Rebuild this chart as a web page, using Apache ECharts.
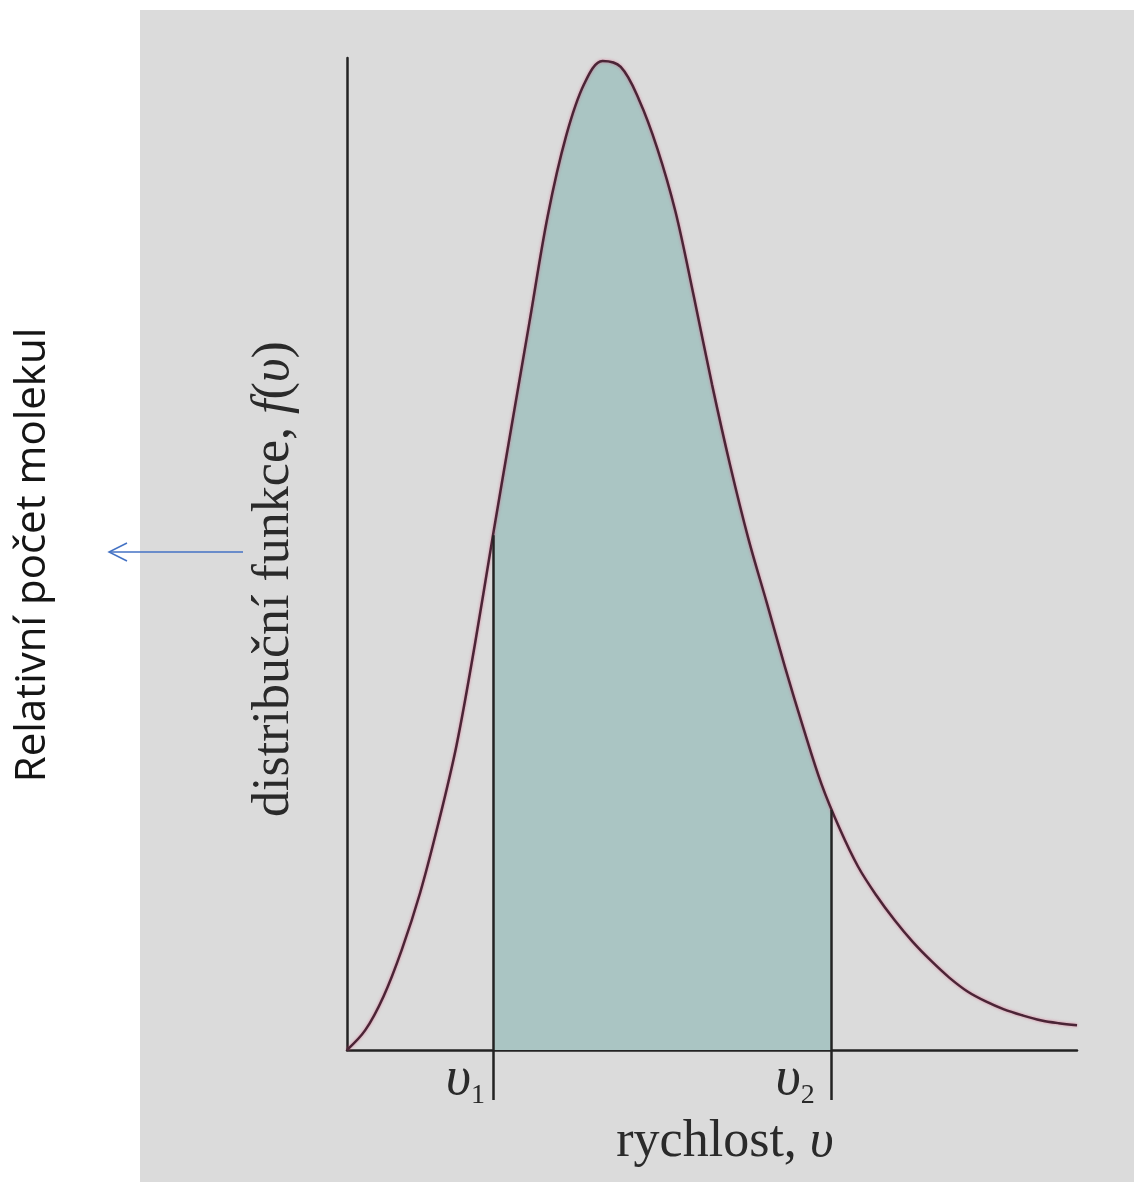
<!DOCTYPE html>
<html>
<head>
<meta charset="utf-8">
<script src="https://cdn.jsdelivr.net/npm/echarts@6/dist/echarts.min.js"></script>
<style>
html,body{margin:0;padding:0;background:#ffffff;}
#chart{width:1134px;height:1182px;}
</style>
</head>
<body>
<div id="chart"></div>
<script>
// Maxwell-like speed distribution (x: speed, arbitrary units 0..10; y: f(v), 0..1)
const speedValues = [0, 0.25, 0.5, 0.75, 1.0, 1.25, 1.5, 1.75, 2.0, 2.25, 2.5, 2.75, 3.0, 3.25, 3.5, 3.75, 4.0, 4.25, 4.5, 4.75, 5.0, 5.25, 5.5, 5.75, 6.0, 6.25, 6.5, 6.75, 7.0, 7.25, 7.5, 7.75, 8.0, 8.25, 8.5, 8.75, 9.0, 9.25, 9.5, 9.75, 10.0];
const densityValues = [0, 0.020, 0.054, 0.101, 0.158, 0.228, 0.307, 0.408, 0.519, 0.627, 0.734, 0.841, 0.921, 0.974, 0.997, 0.991, 0.958, 0.909, 0.845, 0.760, 0.671, 0.589, 0.515, 0.451, 0.386, 0.325, 0.268, 0.223, 0.185, 0.156, 0.131, 0.109, 0.090, 0.073, 0.059, 0.049, 0.041, 0.035, 0.030, 0.027, 0.025];

// integration bounds v1, v2 and curve height read at them
const boundSpeeds = [2.0, 6.64];
const boundHeights = [0.519, 0.242];
const boundLabels = ['1', '2'];

const curveData = speedValues.map((s, i) => [s, densityValues[i]]);
const shadedData = [[boundSpeeds[0], boundHeights[0]]]
  .concat(curveData.filter(p => p[0] > boundSpeeds[0] && p[0] < boundSpeeds[1]))
  .concat([[boundSpeeds[1], boundHeights[1]]]);

const axisColor = '#232323';
const textColor = '#2a2a2a';
const serif = '"Liberation Serif", "Times New Roman", serif';

const chart = echarts.init(document.getElementById('chart'));
chart.setOption({
  backgroundColor: '#ffffff',
  animation: false,
  grid: { left: 347, top: 58, right: 57, bottom: 132, containLabel: false },
  graphic: [
    { type: 'rect', z: -10, silent: true, shape: { x: 140, y: 10, width: 994, height: 1172 }, style: { fill: '#dbdbdb' } },
    { type: 'text', x: 33, y: 555, rotation: Math.PI / 2, silent: true,
      style: { text: 'Relativní počet molekul', fontSize: 42, fontFamily: '"Open Sans", "Noto Sans", sans-serif', fill: '#151515', align: 'center', verticalAlign: 'middle' } },
    { type: 'line', silent: true, shape: { x1: 243, y1: 552, x2: 110, y2: 552 }, style: { stroke: '#4472c4', lineWidth: 1.5 } },
    { type: 'polyline', silent: true, shape: { points: [[127, 543], [109, 552], [127, 561]] }, style: { stroke: '#4472c4', lineWidth: 1.5, fill: null } }
  ],
  xAxis: {
    type: 'value', min: 0, max: 10,
    name: 'rychlost, {i|υ}',
    nameLocation: 'middle', nameGap: 66,
    nameTextStyle: { fontFamily: serif, fontSize: 52, color: textColor, padding: [0, 0, 0, 26],
      rich: { i: { fontFamily: serif, fontSize: 52, fontStyle: 'italic', color: textColor } } },
    axisLine: { show: true, lineStyle: { color: axisColor, width: 2.5 } },
    axisTick: { show: true, customValues: boundSpeeds, length: 50, inside: false, lineStyle: { color: axisColor, width: 2.5 } },
    axisLabel: {
      show: true, customValues: boundSpeeds, margin: 0, align: 'right',
      formatter: function (val) {
        const k = Math.abs(val - boundSpeeds[0]) < 1e-6 ? 0 : 1;
        return '{v|υ}{s' + k + '|' + boundLabels[k] + '}';
      },
      rich: {
        v: { fontFamily: serif, fontStyle: 'italic', fontSize: 55, lineHeight: 60, verticalAlign: 'middle', color: textColor },
        s0: { fontFamily: serif, fontSize: 28, lineHeight: 28, verticalAlign: 'bottom', color: textColor, padding: [0, 8, 0, 0] },
        s1: { fontFamily: serif, fontSize: 28, lineHeight: 28, verticalAlign: 'bottom', color: textColor, padding: [0, 17, 0, 0] }
      }
    },
    splitLine: { show: false }
  },
  yAxis: {
    type: 'value', min: 0, max: 1,
    name: 'distribuční funkce, {i|f}({i|υ})',
    nameLocation: 'middle', nameRotate: 90, nameGap: 47,
    nameTextStyle: { fontFamily: serif, fontSize: 52, color: textColor, padding: [0, 50, 0, 0],
      rich: { i: { fontFamily: serif, fontSize: 52, fontStyle: 'italic', color: textColor } } },
    axisLine: { show: true, lineStyle: { color: axisColor, width: 2.5 } },
    axisTick: { show: false },
    axisLabel: { show: false },
    splitLine: { show: false }
  },
  series: [
    {
      type: 'line', name: 'shaded', data: shadedData, smooth: 0.35, symbol: 'none', z: 1,
      lineStyle: { width: 0 },
      areaStyle: { color: '#aac5c3', opacity: 1, origin: 'start' },
      markLine: {
        silent: true, symbol: ['none', 'none'], label: { show: false },
        lineStyle: { color: axisColor, width: 2.5, type: 'solid' },
        data: boundSpeeds.map((s, i) => [{ coord: [s, 0] }, { coord: [s, boundHeights[i]] }])
      }
    },
    {
      type: 'line', name: 'f(v)', data: curveData, smooth: 0.35, symbol: 'none', z: 3,
      lineStyle: { color: '#4a2536', width: 2.5, shadowColor: 'rgba(220,60,110,0.55)', shadowBlur: 3 }
    }
  ]
});
</script>
</body>
</html>
